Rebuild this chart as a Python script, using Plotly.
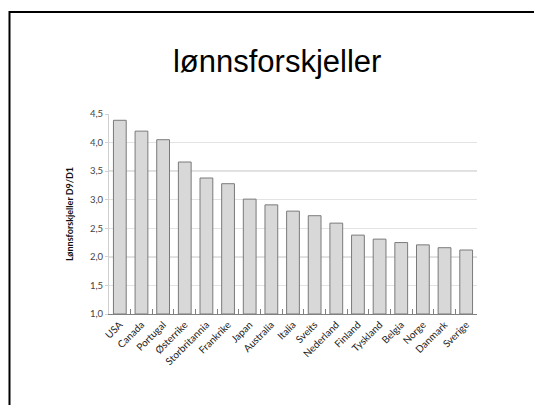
import plotly.graph_objects as go

countries = ["USA", "Canada", "Portugal", "Østerrike", "Storbritannia", "Frankrike",
             "Japan", "Australia", "Italia", "Sveits", "Nederland", "Finland",
             "Tyskland", "Belgia", "Norge", "Danmark", "Sverige"]
values = [4.39, 4.20, 4.05, 3.66, 3.38, 3.28, 3.01, 2.91, 2.80, 2.72, 2.59, 2.38,
          2.31, 2.25, 2.21, 2.16, 2.12]
y_ticks = [1.0, 1.5, 2.0, 2.5, 3.0, 3.5, 4.0, 4.5]
dark_grid = [3.5, 2.0]
axis_base = 1.0

title_text = "lønnsforskjeller"
y_title = "Lønnsforskjeller D9/D1"

fig = go.Figure()
fig.add_trace(go.Bar(
    x=countries, y=[v - axis_base for v in values],
    base=axis_base,
    marker=dict(color="#d8d8d8", line=dict(color="#7a7a7a", width=1)),
))

for g in dark_grid:
    fig.add_shape(type="line", xref="paper", yref="y", x0=0, x1=1, y0=g, y1=g,
                  line=dict(color="#a8a8a8", width=1), layer="below")

# slide frame
fig.add_shape(type="rect", xref="paper", yref="paper",
              x0=-0.2704, x1=1.2, y0=-0.5, y1=1.51,
              line=dict(color="black", width=2), fillcolor="rgba(0,0,0,0)")

fig.update_layout(
    width=534, height=405,
    margin=dict(l=109, r=57, t=114, b=91),
    paper_bgcolor="white", plot_bgcolor="white",
    separators=",.",
    showlegend=False,
    bargap=0.41,
    title=dict(text=title_text, x=0.519, xanchor="center", y=1 - 61 / 405,
               yanchor="middle",
               font=dict(family="Liberation Sans", size=31, color="black")),
    font=dict(family="Lato", color="#333333"),
)
fig.update_xaxes(
    type="category", tickangle=-45,
    tickfont=dict(family="Lato", size=10, color="#222222"),
    showline=True, linecolor="#808080", linewidth=1,
    ticks="inside", tickson="boundaries", ticklen=5, tickcolor="#808080",
    showgrid=False,
)
fig.update_yaxes(
    range=[1.0, 4.5], tickvals=y_ticks, tickformat=".1f",
    tickfont=dict(family="Lato", size=9.5, color="#444444"),
    showgrid=True, gridcolor="#e3e3e3", gridwidth=1,
    showline=True, linecolor="#d0d0d0", linewidth=1,
    ticks="outside", ticklen=3, tickcolor="#d0d0d0",
    title=dict(text="<b>" + y_title + "</b>", standoff=14,
               font=dict(family="Lato", size=9, color="#111111")),
    zeroline=False,
)
fig.write_html("out.html")
